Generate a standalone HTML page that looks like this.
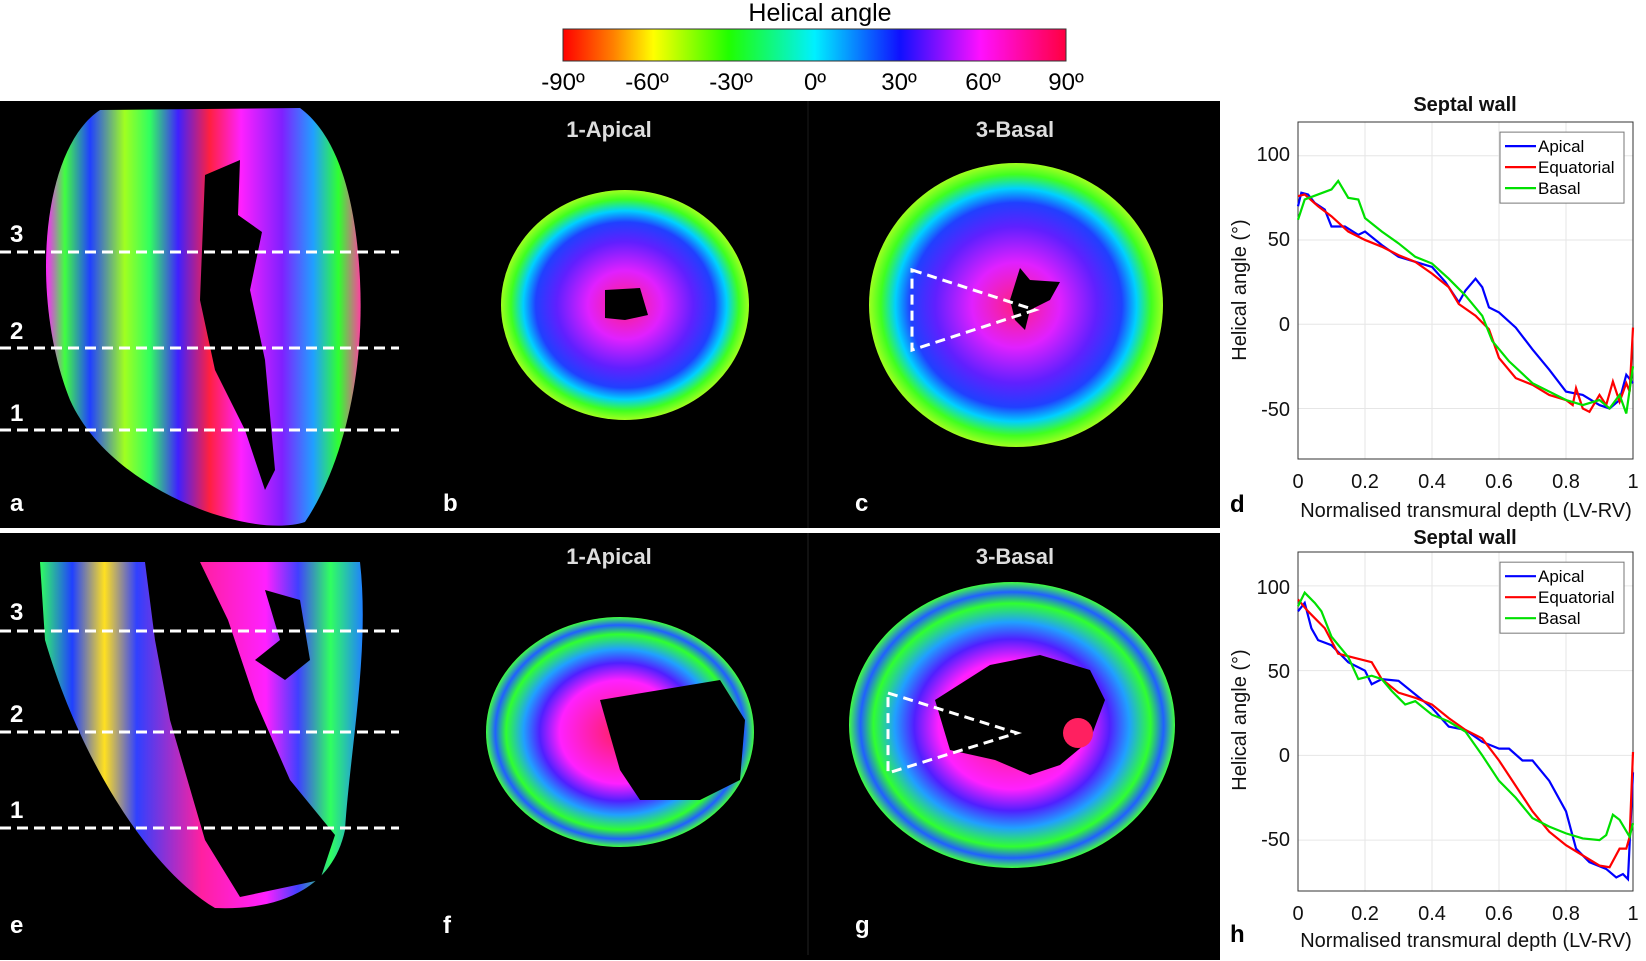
<!DOCTYPE html>
<html><head><meta charset="utf-8"><style>
html,body{margin:0;padding:0;background:#fff}
svg{display:block}
text{font-family:"Liberation Sans",Arial,sans-serif}
</style></head><body>
<svg id="s" width="1646" height="961" viewBox="0 0 1646 961" xmlns="http://www.w3.org/2000/svg">
<defs>
<linearGradient id="cb" x1="0" x2="1" y1="0" y2="0">
<stop offset="0" stop-color="#ff0000"/><stop offset="0.1" stop-color="#ff8000"/><stop offset="0.18" stop-color="#ffff00"/>
<stop offset="0.33" stop-color="#20ff00"/><stop offset="0.5" stop-color="#00f0ff"/><stop offset="0.67" stop-color="#1010ff"/>
<stop offset="0.83" stop-color="#ff10ff"/><stop offset="1" stop-color="#ff0040"/></linearGradient>
<radialGradient id="rb">
<stop offset="0" stop-color="#ff2080"/><stop offset="0.3" stop-color="#e020ff"/><stop offset="0.55" stop-color="#6020ff"/>
<stop offset="0.72" stop-color="#2040ff"/><stop offset="0.82" stop-color="#00d0ff"/><stop offset="0.92" stop-color="#40ff20"/><stop offset="1" stop-color="#a0ff20"/></radialGradient>
<radialGradient id="rg">
<stop offset="0" stop-color="#ff2060"/><stop offset="0.45" stop-color="#ff20ff"/><stop offset="0.6" stop-color="#5020ff"/>
<stop offset="0.72" stop-color="#20a0ff"/><stop offset="0.85" stop-color="#30ff30"/><stop offset="0.93" stop-color="#2060ff"/><stop offset="1" stop-color="#40ff40"/></radialGradient>
<linearGradient id="la" x1="0" x2="1" y1="0" y2="0">
<stop offset="0" stop-color="#ff20ff"/><stop offset="0.06" stop-color="#40ff40"/><stop offset="0.14" stop-color="#2040ff"/>
<stop offset="0.25" stop-color="#a0ff20"/><stop offset="0.33" stop-color="#30ff60"/><stop offset="0.42" stop-color="#4020ff"/>
<stop offset="0.52" stop-color="#ff2040"/><stop offset="0.62" stop-color="#ff20ff"/><stop offset="0.75" stop-color="#8020ff"/>
<stop offset="0.85" stop-color="#20a0ff"/><stop offset="0.93" stop-color="#30ff30"/><stop offset="1" stop-color="#ff40a0"/></linearGradient>
<linearGradient id="le" x1="0" x2="1" y1="0" y2="0">
<stop offset="0" stop-color="#30ff60"/><stop offset="0.1" stop-color="#2040ff"/><stop offset="0.2" stop-color="#ffe020"/>
<stop offset="0.3" stop-color="#3040ff"/><stop offset="0.5" stop-color="#ff20a0"/><stop offset="0.7" stop-color="#ff20ff"/>
<stop offset="0.8" stop-color="#4040ff"/><stop offset="0.9" stop-color="#30ff60"/><stop offset="1" stop-color="#2080ff"/></linearGradient>
</defs>
<rect width="1646" height="961" fill="#fff"/>
<text x="820" y="21" font-size="25" text-anchor="middle">Helical angle</text>
<rect x="563" y="29" width="503" height="32" fill="url(#cb)" stroke="#333"/>
<g font-size="24" text-anchor="middle">
<text x="563" y="90">-90º</text><text x="647" y="90">-60º</text><text x="731" y="90">-30º</text><text x="815" y="90">0º</text>
<text x="899" y="90">30º</text><text x="983" y="90">60º</text><text x="1066" y="90">90º</text></g>
<rect x="0" y="101" width="1220" height="427" fill="#000"/>
<rect x="0" y="533" width="1220" height="427" fill="#000"/>
<line x1="808" y1="101" x2="808" y2="528" stroke="#1a1a1a"/>
<line x1="808" y1="533" x2="808" y2="955" stroke="#222"/>
<path d="M100 110 C40 150,30 300,70 400 C110 490,250 540,305 522 C340 470,365 380,360 280 C355 180,330 130,300 108 Z" fill="url(#la)"/>
<path d="M205 175 L240 160 L238 215 L262 232 L250 290 L265 360 L275 470 L265 490 L245 430 L215 370 L200 300 Z" fill="#000"/>
<ellipse cx="625" cy="305" rx="124" ry="115" fill="url(#rb)"/>
<path d="M605 290 L640 288 L648 315 L625 320 L605 318 Z" fill="#000"/>
<ellipse cx="1016" cy="305" rx="147" ry="142" fill="url(#rb)"/>
<path d="M1020 268 L1030 280 L1060 282 L1050 300 L1030 310 L1025 330 L1015 320 L1010 300 Z" fill="#000"/>
<path d="M912 270 L1035 310 L912 350 Z" fill="none" stroke="#fff" stroke-width="3" stroke-dasharray="10 6"/>
<path d="M40 562 L360 562 C370 650,350 750,345 830 C330 900,260 910,215 908 C150 870,80 760,45 640 Z" fill="url(#le)"/>
<path d="M145 562 L200 562 L228 620 L255 700 L290 780 L335 835 L320 880 L240 897 L205 840 L170 720 L155 640 Z" fill="#000"/>
<path d="M265 590 L300 600 L310 660 L285 680 L255 660 L280 640 Z" fill="#000"/>
<ellipse cx="620" cy="732" rx="134" ry="115" fill="url(#rg)"/>
<path d="M600 700 L660 690 L720 680 L745 720 L740 780 L700 800 L640 800 L620 770 Z" fill="#000"/>
<ellipse cx="1012" cy="725" rx="163" ry="143" fill="url(#rg)"/>
<path d="M935 700 L990 665 L1040 655 L1090 670 L1105 700 L1090 740 L1060 765 L1030 775 L995 760 L950 750 Z" fill="#000"/>
<circle cx="1078" cy="733" r="15" fill="#ff2060"/>
<path d="M888 693 L1017 733 L888 773 Z" fill="none" stroke="#fff" stroke-width="3" stroke-dasharray="10 6"/>
<g stroke="#fff" stroke-width="3" stroke-dasharray="11 6">
<line x1="0" y1="252" x2="399" y2="252"/><line x1="0" y1="348" x2="399" y2="348"/><line x1="0" y1="430" x2="399" y2="430"/>
<line x1="0" y1="631" x2="399" y2="631"/><line x1="0" y1="732" x2="399" y2="732"/><line x1="0" y1="828" x2="399" y2="828"/></g>
<g fill="#fff" font-size="24" font-weight="bold">
<text x="10" y="242">3</text><text x="10" y="339">2</text><text x="10" y="421">1</text>
<text x="10" y="620">3</text><text x="10" y="722">2</text><text x="10" y="818">1</text>
<text x="10" y="511">a</text><text x="443" y="511">b</text><text x="855" y="511">c</text>
<text x="10" y="933">e</text><text x="443" y="933">f</text><text x="855" y="933">g</text></g>
<g fill="#ddd" font-size="22" font-weight="bold" text-anchor="middle">
<text x="609" y="137">1-Apical</text><text x="1015" y="137">3-Basal</text>
<text x="609" y="564">1-Apical</text><text x="1015" y="564">3-Basal</text></g>
<g font-size="24" font-weight="bold"><text x="1230" y="512">d</text><text x="1230" y="942">h</text></g>
<g id="charts"></g>
</svg>
<script>
var NS="http://www.w3.org/2000/svg",C=document.getElementById("charts");
function el(t,a,txt){var e=document.createElementNS(NS,t);for(var k in a)e.setAttribute(k,a[k]);if(txt)e.textContent=txt;C.appendChild(e);return e;}
function chart(top,bot,d){
 var x0=1298,x1=1633,sy=(bot-top)/200;
 function Y(a){return top+(120-a)*sy;}function X(v){return x0+v*(x1-x0);}
 for(var i=0;i<=5;i++)el("line",{x1:X(i/5),x2:X(i/5),y1:top,y2:bot,stroke:"#e6e6e6"});
 [100,50,0,-50].forEach(function(a){el("line",{x1:x0,x2:x1,y1:Y(a),y2:Y(a),stroke:"#e6e6e6"});});
 el("rect",{x:x0,y:top,width:x1-x0,height:bot-top,fill:"none",stroke:"#333"});
 var cols=["#0000ff","#ff0000","#00e000"];
 d.forEach(function(s,i){var p=[];for(var j=0;j<s.length;j+=2)p.push(X(s[j])+","+Y(s[j+1]));
  el("polyline",{points:p.join(" "),fill:"none",stroke:cols[i],"stroke-width":2.2});});
 var lx=1500,ly=top+(bot-top)*0.03;
 el("rect",{x:lx,y:ly,width:124,height:71,fill:"#fff",stroke:"#777"});
 ["Apical","Equatorial","Basal"].forEach(function(n,i){var yy=ly+14+i*21;
  el("line",{x1:lx+5,x2:lx+36,y1:yy,y2:yy,stroke:cols[i],"stroke-width":2.2});
  el("text",{x:lx+38,y:yy+6,"font-size":17},n);});
}
chart(122,459,[
[0,70,0.01,78,0.03,77,0.05,72,0.08,68,0.1,58,0.14,58,0.18,53,0.2,55,0.25,47,0.3,40,0.35,37,0.4,34,0.44,25,0.48,13,0.5,20,0.53,27,0.55,22,0.57,10,0.6,7,0.65,-2,0.7,-15,0.75,-27,0.8,-40,0.85,-42,0.9,-48,0.93,-50,0.96,-45,0.98,-30,1,-35],
[0,76,0.02,77,0.06,70,0.1,64,0.15,55,0.2,50,0.25,46,0.3,41,0.35,37,0.4,30,0.45,22,0.48,12,0.53,5,0.57,-3,0.6,-20,0.65,-32,0.7,-36,0.75,-42,0.8,-45,0.82,-48,0.83,-38,0.85,-50,0.87,-52,0.9,-42,0.92,-48,0.94,-34,0.96,-46,0.98,-35,0.99,-40,1,-2],
[0,62,0.02,74,0.06,77,0.1,80,0.12,85,0.15,75,0.18,74,0.2,63,0.25,55,0.3,48,0.35,40,0.4,36,0.45,27,0.5,17,0.55,5,0.58,-10,0.63,-22,0.7,-35,0.8,-45,0.85,-48,0.9,-45,0.93,-50,0.96,-42,0.98,-53,1,-25]]);
chart(552,891,[
[0,85,0.02,90,0.04,75,0.06,68,0.1,65,0.15,55,0.2,50,0.22,42,0.25,45,0.3,44,0.35,36,0.4,28,0.45,17,0.5,15,0.55,8,0.6,4,0.63,4,0.67,-3,0.7,-3,0.75,-15,0.8,-33,0.83,-55,0.87,-63,0.92,-67,0.95,-72,0.97,-70,0.985,-73,1,-10],
[0,92,0.03,85,0.08,75,0.12,60,0.18,57,0.22,55,0.25,45,0.3,37,0.35,34,0.4,30,0.45,22,0.5,15,0.55,10,0.6,-3,0.65,-18,0.7,-33,0.75,-45,0.8,-53,0.85,-59,0.9,-65,0.93,-66,0.96,-55,0.98,-55,0.99,-48,1,2],
[0,88,0.02,96,0.05,90,0.07,85,0.1,70,0.15,58,0.18,45,0.22,47,0.25,45,0.28,38,0.32,30,0.35,32,0.4,24,0.45,20,0.5,14,0.55,0,0.6,-15,0.65,-25,0.7,-37,0.75,-42,0.8,-46,0.85,-49,0.9,-50,0.92,-47,0.94,-35,0.96,-38,0.99,-48,1,-40]]);
</script>
<div style="position:absolute;left:0;top:0;width:1646px;height:961px;pointer-events:none">
<svg width="1646" height="961" style="position:absolute;left:0;top:0">
<g font-family="Liberation Sans, sans-serif" font-size="20" fill="#111">
<text x="1465" y="111" font-weight="bold" text-anchor="middle">Septal wall</text>
<text x="1290" y="161" text-anchor="end">100</text><text x="1290" y="246" text-anchor="end">50</text>
<text x="1290" y="331" text-anchor="end">0</text><text x="1290" y="416" text-anchor="end">-50</text>
<text x="1298" y="488" text-anchor="middle">0</text><text x="1365" y="488" text-anchor="middle">0.2</text><text x="1432" y="488" text-anchor="middle">0.4</text>
<text x="1499" y="488" text-anchor="middle">0.6</text><text x="1566" y="488" text-anchor="middle">0.8</text><text x="1633" y="488" text-anchor="middle">1</text>
<text x="1466" y="517" text-anchor="middle">Normalised transmural depth (LV-RV)</text>
<text transform="translate(1246,290) rotate(-90)" text-anchor="middle">Helical angle (°)</text>
<text x="1465" y="544" font-weight="bold" text-anchor="middle">Septal wall</text>
<text x="1290" y="594" text-anchor="end">100</text><text x="1290" y="678" text-anchor="end">50</text>
<text x="1290" y="762" text-anchor="end">0</text><text x="1290" y="846" text-anchor="end">-50</text>
<text x="1298" y="920" text-anchor="middle">0</text><text x="1365" y="920" text-anchor="middle">0.2</text><text x="1432" y="920" text-anchor="middle">0.4</text>
<text x="1499" y="920" text-anchor="middle">0.6</text><text x="1566" y="920" text-anchor="middle">0.8</text><text x="1633" y="920" text-anchor="middle">1</text>
<text x="1466" y="947" text-anchor="middle">Normalised transmural depth (LV-RV)</text>
<text transform="translate(1246,720) rotate(-90)" text-anchor="middle">Helical angle (°)</text>
</g></svg></div>
</body></html>
